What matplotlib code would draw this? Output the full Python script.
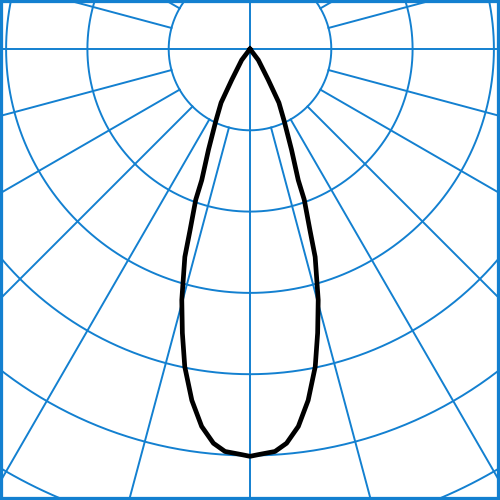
import numpy as np
import matplotlib.pyplot as plt
from matplotlib.patches import Rectangle

# luminous intensity curve, one half (degrees from nadir, relative radius)
curve_deg = [0, 1.2, 3.55, 5.3, 7.3, 9.4, 11.6, 13.4, 15.2, 17.4, 18.3, 19.8,
             20.2, 22.4, 25.4, 28.3, 30.6, 37, 45]
curve_r = [5.01, 4.99, 4.96, 4.87, 4.68, 4.38, 3.99, 3.59, 3.20, 2.68, 2.35, 1.97,
           1.72, 1.34, 0.98, 0.75, 0.44, 0.17, 0.0]

ring_r = [1, 2, 3, 4, 5, 6]
spoke_deg = [15, 30, 45, 60, 75, 105, 120, 135, 150, 165]
axis_deg = [0, 90, 180, 270]

grid_col = "#1380d0"
unit_px = 81.3
rmax = 6.6

fig = plt.figure(figsize=(5, 5), dpi=100)
size = 2 * rmax * unit_px / 500
cx, cy = 0.5, (500 - 49) / 500
ax = fig.add_axes([cx - size / 2, cy - size / 2, size, size], projection="polar")
ax.set_theta_zero_location("S")
ax.set_rlim(0, rmax)
ax.grid(False)
ax.set_xticks([])
ax.set_yticks([])
ax.spines["polar"].set_visible(False)

full = np.linspace(0, 2 * np.pi, 721)
for r in ring_r:
    ax.plot(full, np.full_like(full, r), color=grid_col, lw=1.4)

for d in spoke_deg:
    for s in (1, -1):
        t = np.radians(s * d)
        ax.plot([t, t], [1, rmax], color=grid_col, lw=1.4)

for d in axis_deg:
    t = np.radians(d)
    ax.plot([t, t], [0, rmax], color=grid_col, lw=1.4)

# mirror the half curve
deg = np.array(curve_deg)
rr = np.array(curve_r)
th = np.radians(np.concatenate([-deg[::-1], deg[1:]]))
rv = np.concatenate([rr[::-1], rr[1:]])
ax.plot(th, rv, color="black", lw=3.4, solid_joinstyle="round", zorder=5)

fig.patches.append(Rectangle((0, 0), 1, 1, transform=fig.transFigure,
                             fill=False, edgecolor=grid_col, lw=4.5))

fig.savefig("out.png", dpi=100)
